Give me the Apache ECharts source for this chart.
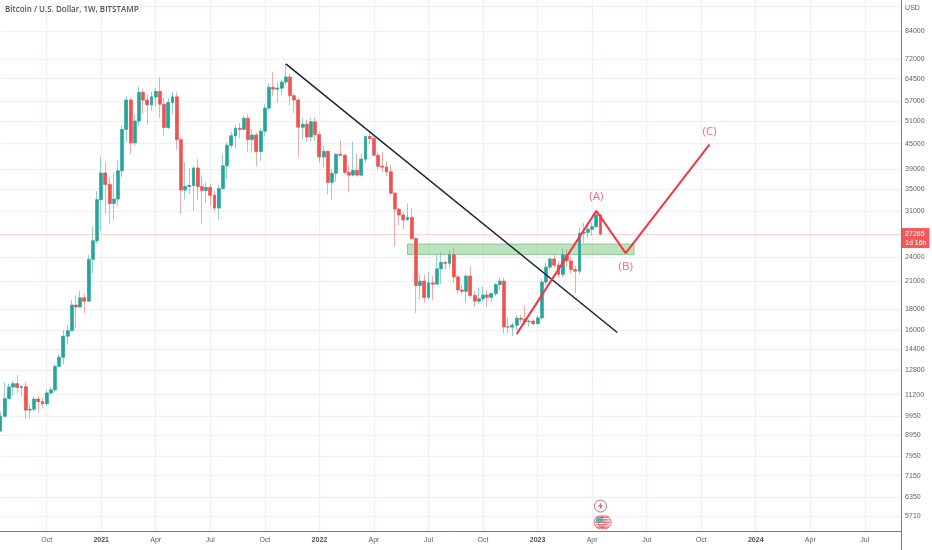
<!DOCTYPE html>
<html><head><meta charset="utf-8">
<style>html,body{margin:0;padding:0;background:#fff}#c{width:932px;height:550px}</style>
<script src="https://cdn.jsdelivr.net/npm/echarts@6/dist/echarts.min.js"></script>
</head><body><div id="c"></div>
<script>
const chartTitle = 'Bitcoin / U.S. Dollar, 1W, BITSTAMP';
const opens = [9160,9930,10950,11680,11900,11650,11700,10280,10330,10930,10780,10650,11300,11500,13100,13780,15480,15960,18400,18200,19150,18800,23700,26270,
33000,38240,35900,32300,33100,38700,48700,57300,45200,51000,59800,57300,55800,58300,60100,56000,49200,56500,58300,46000,34800,35500,35700,39300,35500,34700,35300,33800,31500,35100,39800,44600,47000,49000,48700,51800,46000,47200,43100,48200,54800,61500,60900,61200,63300,65100,58700,57300,49300,50100,46700,50800,47300,41800,43100,36300,38200,42400,42200,38400,37800,38800,37800,41300,46800,46300,42200,39700,39500,38500,34200,31300,30300,29500,29900,26600,20500,21000,19200,20800,20650,22500,23300,23200,24300,21500,20000,19850,21600,19400,18800,19050,19450,19200,19600,20600,21000,16300,16280,16450,17100,17000,16780,16830,16600,17130,20900,22700,23750,22950,21800,24300,23500,22400,22200,27400,27500,28000,28400,30300];
const highs = [10180,12000,11900,12100,12480,11800,12000,10650,11100,11100,11000,11500,11700,13200,14000,16000,16500,18900,19400,19900,19550,24300,28400,34600,
42000,40600,37300,38300,41000,49900,58400,58000,53000,61800,61000,59000,60000,61300,65000,58000,58000,60000,59800,46500,40700,39300,39700,41300,37700,36300,36000,34700,35800,42400,45300,48100,49900,50500,52500,52900,48800,47900,49000,56100,62900,67000,63300,64000,70000,66200,59500,58000,51900,51500,52000,52000,47900,44500,43400,39000,42700,45800,42500,40000,45400,42500,42500,47000,48200,47000,42700,43000,40800,40000,34300,31500,30800,32300,31500,26800,21800,21800,22100,21600,24300,24700,23500,24900,25200,21800,20600,21800,22800,19900,20300,20400,20000,19700,20800,21500,21400,17200,16700,17400,17400,18350,17000,17000,17400,21300,23300,23900,24300,23500,25200,25000,24000,22900,28300,29000,29000,29100,31000,30500];
const lows = [9100,9900,10950,11100,11300,11100,9800,9800,10200,10130,10370,10530,11200,11400,13100,13250,14800,15900,16200,18100,17550,18700,21900,25900,
27700,30500,28900,29400,31900,37200,45500,42500,44500,49500,53200,50000,54000,55400,51800,47000,48800,53000,43500,30500,33000,34000,31000,33000,28800,32400,32000,31000,29500,34800,37000,44000,43900,46300,48500,43000,42800,39700,40900,47000,54000,58500,56500,59000,62500,55600,53300,41800,46000,45500,45500,45800,40500,39500,34000,33000,36400,42000,38000,34400,37500,37500,37500,40500,45000,42000,39000,38500,37500,33800,25400,28600,28000,29400,26500,17600,19000,18650,19000,18900,20600,20700,22400,22500,20800,19600,19500,18600,19300,18200,18500,18700,18200,18700,19300,20000,15700,15700,15500,16000,16700,16500,16300,16500,16500,17000,20500,22300,22700,21400,21500,22700,21900,19600,21800,26000,26600,27000,28300,27100];
const closes = [9930,10950,11680,11900,11650,11700,10280,10330,10930,10780,10650,11300,11500,13100,13780,15480,15960,18400,18200,19150,18800,23700,26270,33000,
38240,35900,32300,33100,38700,48700,57300,45200,51000,59800,57300,55800,58300,60100,56000,49200,56500,58300,46000,34800,35500,35700,39300,35500,34700,35300,33800,31500,35100,39800,44600,47000,49000,48700,51800,46000,47200,43100,48200,54800,61500,60900,61200,63300,65100,58700,57300,49300,50100,46700,50800,47300,41800,43100,36300,38200,42400,42200,38400,37800,38800,37800,41300,46800,46300,42200,39700,39500,38500,34200,31300,30300,29500,29900,26600,20500,21000,19200,20800,20650,22500,23300,23200,24300,21500,20000,19850,21600,19400,18800,19050,19450,19200,19600,20600,21000,16300,16280,16450,17100,17000,16780,16830,16600,17130,20900,22700,23750,22950,21800,24300,23500,22400,22200,27400,27500,28000,28400,30300,27265];

const yTickValues = [96500,84000,72000,64500,57000,51000,45000,39000,35000,31000,24000,21000,18000,16000,14400,12800,11200,9950,8950,7950,7150,6350,5710];
const yTickLabels = ['USD','84000','72000','64500','57000','51000','45000','39000','35000','31000','24000','21000','18000','16000','14400','12800','11200','9950','8950','7950','7150','6350','5710'];
const xTickDates = ['2020-10-05','2021-01-04','2021-04-05','2021-07-05','2021-10-04','2022-01-03','2022-04-04','2022-07-04','2022-10-03','2023-01-02','2023-04-03','2023-07-03','2023-10-02','2024-01-01','2024-04-01','2024-07-01'];
const xTickLabels = ['Oct','2021','Apr','Jul','Oct','2022','Apr','Jul','Oct','2023','Apr','Jul','Oct','2024','Apr','Jul'];

const lastPrice = 27265;
const lastPriceLabel = '27265\n1d 16h';
const zoneDates = ['2022-05-30','2023-06-12'];
const zonePrices = [25800,24350];
const trendDates = ['2021-11-08','2023-05-15'];
const trendPrices = [70000,15800];
const waveDates = ['2022-11-28','2023-04-10','2023-05-29','2023-10-16'];
const wavePrices = [15660,31000,24530,44800];
const waveLabelDates = ['2023-04-10','2023-05-29','2023-10-16'];
const waveLabelPrices = [33470,22700,48200];
const waveLabelTexts = ['(A)','(B)','(C)'];
const eventDates = ['2023-04-17'];
const eventPrices = [6040];
const flagDates = ['2023-04-17','2023-04-24'];
const flagPrices = [5520,5520];

const categories = [];
for (let i = 0; i < 216; i++) {
  categories.push(new Date(Date.UTC(2020, 6, 20 + i * 7)).toISOString().slice(0, 10));
}
const UP = '#26a69a', DOWN = '#ef5350';
const ohlc = opens.map((o, i) => [o, closes[i], lows[i], highs[i]]);
const bodies = opens.map((o, i) => [o, closes[i], Math.min(o, closes[i]), Math.max(o, closes[i])]);
const isTick = (i, v) => xTickDates.includes(v);
const tickFont = 'Liberation Sans';

const chart = echarts.init(document.getElementById('c'), null, {renderer: 'canvas'});
chart.setOption({
  animation: false,
  backgroundColor: '#fff',
  title: {text: chartTitle, left: 5, top: 6, padding: 0, textStyle: {fontFamily: 'Open Sans', fontSize: 8, fontWeight: 600, color: '#50535e'}},
  grid: {left: 0.5, right: 29.4, top: 0, bottom: 19},
  xAxis: {
    type: 'category', data: categories, boundaryGap: false,
    axisLine: {show: true, lineStyle: {color: '#787b86', width: 1}},
    axisTick: {show: false},
    axisLabel: {
      interval: isTick, margin: 6, fontFamily: tickFont, fontSize: 7, color: '#5d606b', hideOverlap: false,
      formatter: v => {
        const t = xTickLabels[xTickDates.indexOf(v)];
        return /^\d+$/.test(t) ? '{y|' + t + '}' : t;
      },
      rich: {y: {fontFamily: tickFont, fontSize: 7, fontWeight: 'bold', color: '#4a4e5a'}}
    },
    splitLine: {show: true, interval: isTick, lineStyle: {color: '#eef2f8', width: 1.3}}
  },
  yAxis: {
    type: 'log', logBase: 10, position: 'right', min: 5260, max: 99750,
    axisLine: {show: false, onZero: false},
    axisTick: {show: false, customValues: yTickValues},
    axisLabel: {customValues: yTickValues, margin: 2.5, fontFamily: tickFont, fontSize: 7, color: '#5d606b',
      formatter: v => {
        const i = yTickValues.findIndex(t => Math.abs(t - v) / t < 0.001);
        if (i < 0) return '';
        return i === 0 ? '{u|' + yTickLabels[0] + '}' : yTickLabels[i];
      },
      rich: {u: {fontFamily: tickFont, fontSize: 7, color: '#5d606b', padding: [5, 0, 0, 0]}}},
    splitLine: {show: true, lineStyle: {color: '#eef2f8', width: 1.3}}
  },
  series: [
    {type: 'candlestick', data: ohlc, barWidth: 2, z: 3,
     itemStyle: {color: 'rgba(0,0,0,0)', color0: 'rgba(0,0,0,0)', borderColor: 'rgba(38,166,154,.5)', borderColor0: 'rgba(239,83,80,.5)', borderWidth: 1},
     markLine: {silent: true, symbol: 'none', animation: false,
       lineStyle: {color: 'rgba(239,83,80,.5)', type: 'dotted', width: 1},
       data: [{yAxis: lastPrice}],
       label: {show: true, position: 'end', distance: 0, offset: [-1.5, 4], formatter: lastPriceLabel, align: 'left', verticalAlign: 'middle',
         backgroundColor: '#f05a5a', color: '#fff', padding: [1, 3, 1, 4], lineHeight: 9, fontFamily: tickFont, fontSize: 7}}},
    {type: 'candlestick', data: bodies, barWidth: 3.4, z: 4,
     itemStyle: {color: UP, color0: DOWN, borderColor: UP, borderColor0: DOWN, borderWidth: 0.6}},
    {type: 'line', data: trendDates.map((d, i) => [d, trendPrices[i]]), symbol: 'none', z: 7,
     lineStyle: {color: '#1e222d', width: 1.5}},
    {type: 'line', data: waveDates.map((d, i) => [d, wavePrices[i]]), symbol: 'none', z: 8,
     lineStyle: {color: '#f23645', width: 2}},
    {type: 'scatter', data: waveLabelDates.map((d, i) => [d, waveLabelPrices[i], waveLabelTexts[i]]), symbolSize: 0, z: 9,
     label: {show: true, position: 'inside', formatter: p => p.value[2], fontFamily: 'Open Sans', fontSize: 11.5, color: '#f0484f'}},
    {type: 'line', data: [], z: 6,
     markArea: {silent: true, itemStyle: {color: 'rgba(76,175,80,.36)', borderColor: 'rgba(76,175,80,.55)', borderWidth: 1},
       data: [[{xAxis: zoneDates[0], yAxis: zonePrices[0]}, {xAxis: zoneDates[1], yAxis: zonePrices[1]}]]}},
    {type: 'scatter', data: eventDates.map((d, i) => [d, eventPrices[i]]), symbol: 'circle', symbolSize: 12, z: 9,
     itemStyle: {color: '#fff', borderColor: '#a5505f', borderWidth: 1}},
    {type: 'scatter', data: eventDates.map((d, i) => [d, eventPrices[i]]), symbolSize: [5, 8], z: 10,
     symbol: 'path://M6 0L1 6h3L3 10l5-6H5z', itemStyle: {color: '#a5505f'}},
    {type: 'scatter', data: flagDates.map((d, i) => [d, flagPrices[i]]), symbol: 'circle', symbolSize: 13, z: 9,
     itemStyle: {color: '#fff', borderColor: '#f0484f', borderWidth: 1}},
    {type: 'scatter', data: flagDates.map((d, i) => [d, flagPrices[i]]), symbolSize: 11, z: 10,
     symbol: 'path://M3 2h14v2H3zM1 6h18v2H1zM0 10h20v2H0zM1 14h18v2H1zM3 18h14v2H3z', itemStyle: {color: '#f0484f'}},
    {type: 'scatter', data: flagDates.slice(0, 1).map((d, i) => [d, flagPrices[i]]), symbol: 'rect', symbolSize: [7, 5], symbolOffset: [-1, -2], z: 11,
     itemStyle: {color: '#4fb3a8'}}
  ],
  graphic: [{type: 'line', silent: true, z: 100, shape: {x1: 901.5, y1: 0, x2: 901.5, y2: 550}, style: {stroke: '#787b86', lineWidth: 1}},
            {type: 'rect', silent: true, z: 99, shape: {x: 902, y: 0, width: 1.5, height: 228}, style: {fill: '#fff'}},
            {type: 'rect', silent: true, z: 99, shape: {x: 902, y: 248, width: 1.5, height: 302}, style: {fill: '#fff'}}]
});
</script></body></html>
